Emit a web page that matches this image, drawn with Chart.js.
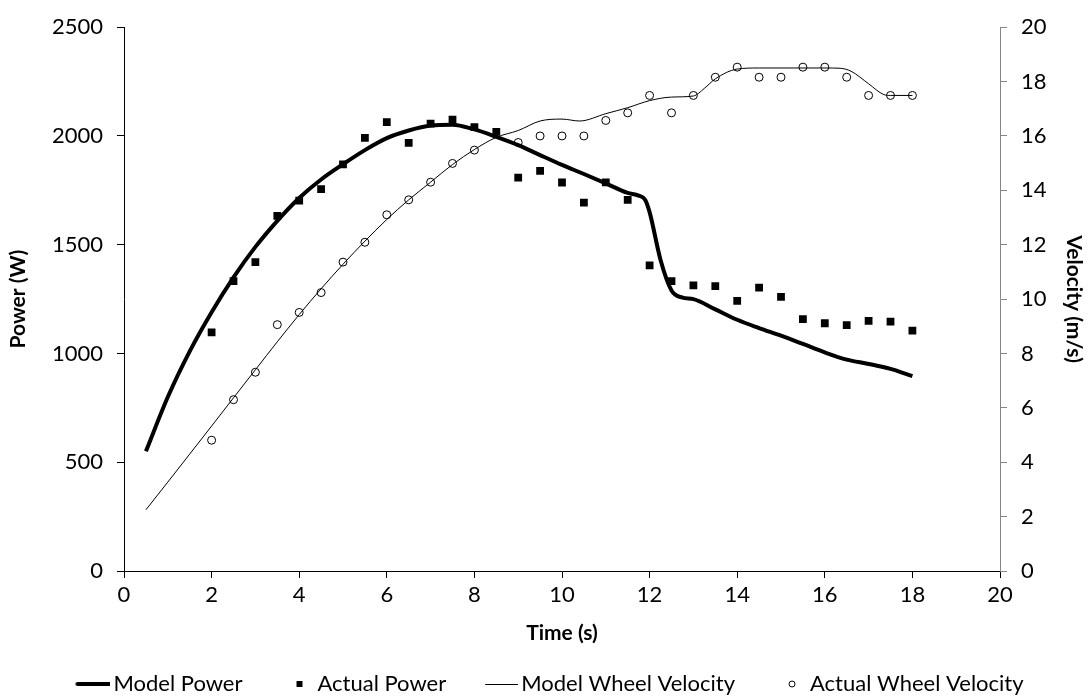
<!DOCTYPE html>
<html lang="en">
<head>
  <meta charset="UTF-8" />
  <title>Power and Wheel Velocity vs Time</title>
  <script src="https://cdn.jsdelivr.net/npm/chart.js"></script>
  <style>
    html, body { margin: 0; padding: 0; background: #fff; }
    #wrap { width: 1092px; height: 697px; position: relative; }
  </style>
</head>
<body>
  <div id="wrap"><canvas id="chart"></canvas></div>

  <script>
    // model power (W)
    const modelPowerTime = [0.5, 1, 1.5, 2, 2.5, 3, 3.5, 4, 4.5, 5, 5.5, 6, 6.5, 7, 7.5, 8, 8.5, 9, 9.5, 10, 10.5, 11, 11.5, 11.75, 11.9, 12, 12.25, 12.5, 12.75, 13, 13.5, 14, 14.5, 15, 15.5, 16, 16.5, 17, 17.5, 18];
    const modelPower = [550, 800, 1010, 1190, 1350, 1490, 1610, 1715, 1800, 1870, 1935, 1990, 2025, 2048, 2052, 2030, 1996, 1958, 1912, 1867, 1825, 1782, 1738, 1726, 1706, 1650, 1430, 1290, 1257, 1250, 1203, 1155, 1117, 1082, 1044, 1005, 972, 952, 929, 896];

    // measured power (W)
    const actualTime = [2, 2.5, 3, 3.5, 4, 4.5, 5, 5.5, 6, 6.5, 7, 7.5, 8, 8.5, 9, 9.5, 10, 10.5, 11, 11.5, 12, 12.5, 13, 13.5, 14, 14.5, 15, 15.5, 16, 16.5, 17, 17.5, 18];
    const actualPower = [1097, 1333, 1420, 1633, 1703, 1756, 1869, 1991, 2064, 1968, 2057, 2075, 2041, 2019, 1808, 1839, 1786, 1694, 1787, 1706, 1405, 1333, 1313, 1310, 1242, 1303, 1260, 1158, 1139, 1130, 1150, 1146, 1105];

    // model wheel velocity (m/s)
    const modelVelTime = [0.5, 1, 1.5, 2, 2.5, 3, 3.5, 4, 4.5, 5, 5.5, 6, 6.5, 7, 7.5, 8, 8.5, 9, 9.5, 10, 10.4, 11, 11.5, 12, 12.5, 13, 13.25, 13.5, 14, 14.5, 15, 15.5, 16, 16.35, 16.6, 17, 17.35, 17.5, 18];
    const modelVelocity = [2.25, 3.27, 4.3, 5.33, 6.37, 7.4, 8.43, 9.43, 10.38, 11.28, 12.13, 12.93, 13.65, 14.3, 14.95, 15.5, 15.95, 16.2, 16.55, 16.62, 16.55, 16.82, 17.04, 17.3, 17.43, 17.47, 17.75, 18.1, 18.46, 18.5, 18.5, 18.5, 18.5, 18.49, 18.38, 17.92, 17.52, 17.49, 17.49];

    // measured wheel velocity (m/s), 8.5 s point hidden in the original
    const actualVelocity = [4.81, 6.3, 7.31, 9.06, 9.51, 10.24, 11.36, 12.09, 13.1, 13.65, 14.3, 14.99, 15.48, null, 15.76, 16.0, 16.0, 16.0, 16.57, 16.85, 17.49, 16.85, 17.49, 18.16, 18.53, 18.16, 18.16, 18.53, 18.53, 18.16, 17.49, 17.49, 17.49];

    const xTicks = [0, 20, 2];
    const powerTicks = [0, 2500, 500];
    const velTicks = [0, 20, 2];

    const pts = (xs, ys) => xs.map((x, i) => ({ x: x, y: ys[i] }));
    const plain = (v) => String(v);

    // little legend symbols
    function icon(draw) {
      const c = document.createElement("canvas");
      c.width = 50; c.height = 14;
      const g = c.getContext("2d");
      g.strokeStyle = "#000"; g.fillStyle = "#000";
      draw(g);
      return c;
    }
    const legendIcons = [
      icon((g) => { g.lineWidth = 4; g.lineCap = "round"; g.beginPath(); g.moveTo(17, 7); g.lineTo(49, 7); g.stroke(); }),
      icon((g) => { g.fillRect(32, 4, 6, 6); }),
      icon((g) => { g.lineWidth = 1; g.beginPath(); g.moveTo(17, 7.5); g.lineTo(50, 7.5); g.stroke(); }),
      icon((g) => { g.lineWidth = 1; g.beginPath(); g.arc(35, 7, 3, 0, Math.PI * 2); g.stroke(); }),
    ];

    Chart.defaults.font.family = "Lato, 'DejaVu Sans', sans-serif";
    Chart.defaults.font.size = 22;
    Chart.defaults.color = "#000";

    const titleFont = { family: "Lato, sans-serif", size: 21, weight: "bold" };

    new Chart(document.getElementById("chart"), {
      type: "line",
      data: {
        datasets: [
          {
            label: "Model Power",
            data: pts(modelPowerTime, modelPower),
            yAxisID: "y",
            borderColor: "#000",
            borderWidth: 4,
            pointRadius: 0,
            cubicInterpolationMode: "monotone",
            fill: false,
          },
          {
            label: "Actual Power",
            data: pts(actualTime, actualPower),
            yAxisID: "y",
            showLine: false,
            pointStyle: "rect",
            pointRadius: 5.5,
            pointBackgroundColor: "#000",
            pointBorderColor: "#000",
            pointBorderWidth: 0,
          },
          {
            label: "Model Wheel Velocity",
            data: pts(modelVelTime, modelVelocity),
            yAxisID: "y1",
            borderColor: "#000",
            borderWidth: 1,
            pointRadius: 0,
            cubicInterpolationMode: "monotone",
            fill: false,
          },
          {
            label: "Actual Wheel Velocity",
            data: pts(actualTime, actualVelocity),
            yAxisID: "y1",
            showLine: false,
            pointStyle: "circle",
            pointRadius: 4,
            pointBackgroundColor: "#fff",
            pointBorderColor: "#000",
            pointBorderWidth: 1,
          },
        ],
      },
      options: {
        responsive: true,
        maintainAspectRatio: false,
        animation: false,
        layout: { padding: { top: 23, left: 0, right: 0, bottom: -8 } },
        plugins: {
          tooltip: { enabled: false },
          legend: {
            position: "bottom",
            labels: {
              usePointStyle: true,
              pointStyleWidth: 34,
              boxHeight: 14,
              padding: 30,
              color: "#000",
              font: { size: 22 },
              generateLabels(chart) {
                const items = Chart.defaults.plugins.legend.labels.generateLabels(chart);
                items.forEach((it) => { it.pointStyle = legendIcons[it.datasetIndex]; });
                return items;
              },
            },
          },
        },
        scales: {
          x: {
            type: "linear",
            min: xTicks[0], max: xTicks[1],
            ticks: { stepSize: xTicks[2], padding: 4, color: "#000", callback: plain },
            grid: { drawOnChartArea: false, tickLength: 7, color: "#000" },
            border: { color: "#000" },
            title: { display: true, text: "Time (s)", font: titleFont, padding: { top: 0, bottom: -3 } },
            afterFit(s) { s.height = 72; },
          },
          y: {
            position: "left",
            min: powerTicks[0], max: powerTicks[1],
            ticks: { stepSize: powerTicks[2], padding: 14, color: "#000", callback: plain },
            grid: { drawOnChartArea: false, tickLength: 7, color: "#000" },
            border: { color: "#000" },
            title: { display: true, text: "Power (W)", font: titleFont, padding: { top: 6, bottom: 0 } },
            afterFit(s) { s.width = 124; },
          },
          y1: {
            position: "right",
            min: velTicks[0], max: velTicks[1],
            ticks: { stepSize: velTicks[2], padding: 14, color: "#000", callback: plain },
            grid: { drawOnChartArea: false, tickLength: 7, color: "#868686" },
            border: { color: "#868686" },
            title: { display: true, text: "Velocity (m/s)", font: titleFont, padding: { top: 6, bottom: 0 } },
            afterFit(s) { s.width = 92; },
          },
        },
      },
    });
  </script>
</body>
</html>
